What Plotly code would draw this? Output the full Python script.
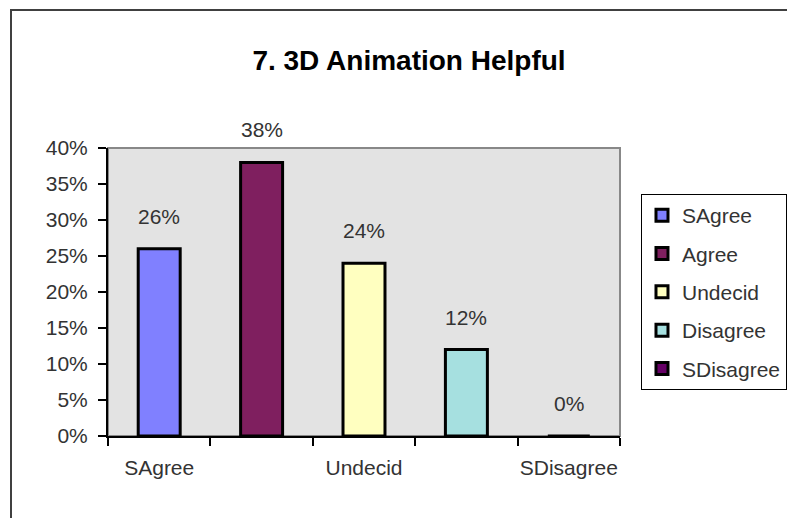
import plotly.graph_objects as go

categories = ["SAgree", "Agree", "Undecid", "Disagree", "SDisagree"]
values = [0.26, 0.38, 0.24, 0.12, 0.0]
labels = ["26%", "38%", "24%", "12%", "0%"]
colors = ["#8080FF", "#7F1F5F", "#FFFFC0", "#A6E0E0", "#660066"]
axis_labels = ["SAgree", "", "Undecid", "", "SDisagree"]
title_text = "7. 3D Animation Helpful"

FONT = "Liberation Sans, Arial, sans-serif"
TXT = "#333333"

fig = go.Figure()
for c, v, col in zip(categories, values, colors):
    fig.add_trace(go.Bar(
        x=[c], y=[v], name=c, legendgroup=c,
        marker=dict(color=col, line=dict(color="black", width=3)),
        width=0.41,
    ))

for c, v, t in zip(categories, values, labels):
    fig.add_annotation(x=c, y=v, text=t, showarrow=False, yanchor="bottom",
                       yshift=19, font=dict(family=FONT, size=21, color=TXT))

# page body has an 8px margin, so positions are offset by -8px
L, R, T, B = 100, 612, 140, 428
W, H = 795, 518

fig.update_layout(
    width=W, height=H,
    margin=dict(l=L, r=W - R, t=T, b=H - B),
    paper_bgcolor="white",
    plot_bgcolor="#E3E3E3",
    barmode="overlay",
    title=dict(text="<b>" + title_text + "</b>", x=401 / W, xanchor="center",
               y=1 - 52 / H, yanchor="middle",
               font=dict(family=FONT, size=28, color="black")),
    font=dict(family=FONT, size=21, color=TXT),
    legend=dict(x=1.041, y=0.84, xanchor="left", yanchor="top",
                bordercolor="black", borderwidth=1, bgcolor="white",
                font=dict(family=FONT, size=21, color=TXT),
                traceorder="grouped", tracegroupgap=8),
    xaxis=dict(
        type="category", categoryorder="array", categoryarray=categories,
        tickvals=categories, ticktext=axis_labels, automargin=False,
        tickson="boundaries", ticks="outside", ticklen=8, tickwidth=2,
        tickcolor="black", showline=True, linecolor="black", linewidth=2,
        showgrid=False, ticklabelstandoff=12, tickangle=0,
        tickfont=dict(family=FONT, size=21, color=TXT),
    ),
    yaxis=dict(
        range=[0, 0.40], dtick=0.05, tickformat=".0%", automargin=False,
        ticks="outside", ticklen=8, tickwidth=2, tickcolor="black",
        showline=True, linecolor="black", linewidth=2,
        showgrid=False, zeroline=False, ticklabelstandoff=6,
        tickfont=dict(family=FONT, size=21, color=TXT),
    ),
    shapes=[
        dict(type="rect", xref="paper", yref="paper", x0=0, x1=1, y0=0, y1=1,
             line=dict(color="#888888", width=2), layer="below"),
        dict(type="rect", xref="paper", yref="paper",
             x0=(3 - L) / (R - L), x1=2, y0=-1, y1=(B - 2) / (B - T),
             line=dict(color="#404040", width=2), layer="below"),
    ],
)

fig.write_html("out.html")
